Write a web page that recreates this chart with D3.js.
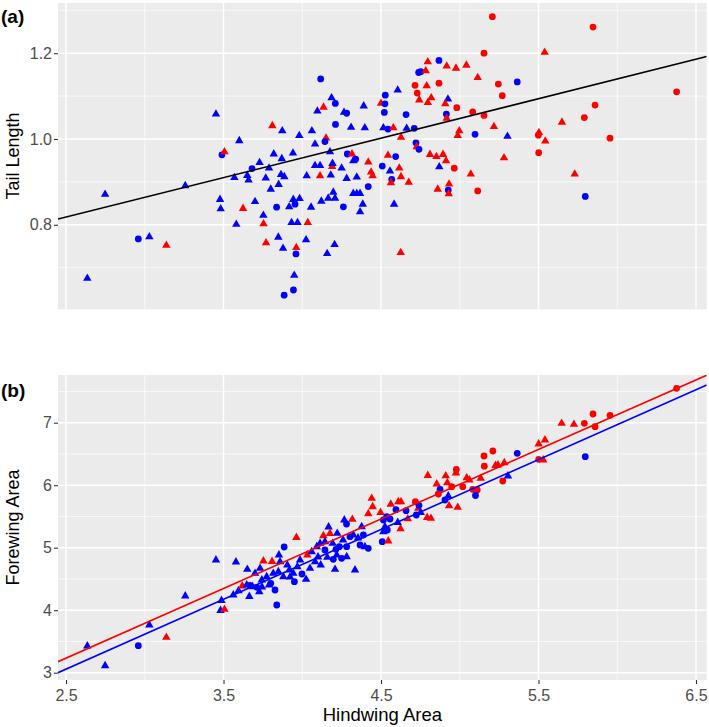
<!DOCTYPE html>
<html><head><meta charset="utf-8">
<script src="https://cdn.jsdelivr.net/npm/d3@7"></script>
<style>body{margin:0;background:#fff}svg{display:block}</style>
</head><body>
<script>
// ---- Data ----
// [hindwing area, tail length, group, shape]
const panelA = [
[2.635,0.675,'b','t'],[2.748,0.871,'b','t'],[2.959,0.767,'b','c'],[3.029,0.772,'b','t'],[3.137,0.752,'r','t'],
[3.257,0.891,'b','t'],[3.452,1.058,'b','t'],[3.490,0.963,'b','c'],[3.506,0.970,'r','t'],[3.478,0.859,'b','t'],
[3.482,0.837,'b','t'],[3.600,0.996,'b','t'],[3.569,0.910,'b','t'],[3.581,0.801,'b','t'],[3.624,0.838,'r','t'],
[3.651,0.915,'b','t'],[3.659,0.904,'b','t'],[3.681,0.931,'b','c'],[3.700,0.854,'b','t'],[3.729,0.945,'b','t'],
[3.768,0.909,'b','t'],[3.789,0.932,'b','t'],[3.800,0.883,'b','t'],[3.753,0.822,'b','t'],[3.754,0.802,'r','t'],
[3.770,0.758,'r','t'],[3.810,1.031,'r','t'],[3.819,0.965,'b','t'],[3.837,0.841,'b','c'],[3.850,0.894,'b','t'],
[3.848,0.771,'b','t'],[3.870,0.954,'b','t'],[3.873,1.019,'b','t'],[3.865,0.917,'b','t'],[3.886,0.912,'b','t'],
[3.878,0.745,'b','t'],[3.885,0.636,'b','c'],[3.917,0.842,'b','t'],[3.932,0.805,'b','t'],[3.941,0.967,'b','t'],
[3.943,0.859,'b','t'],[3.954,0.848,'b','c'],[3.944,0.648,'b','c'],[3.949,0.682,'b','t'],[3.960,0.732,'b','c'],
[3.962,0.747,'r','t'],[3.970,0.805,'b','t'],[3.981,1.008,'b','t'],[3.983,0.861,'b','t'],[4.024,0.765,'b','t'],
[4.028,0.914,'b','t'],[4.035,0.805,'r','t'],[4.056,0.841,'b','t'],[4.061,1.019,'b','t'],[4.081,0.988,'b','t'],
[4.081,0.938,'b','t'],[4.113,0.938,'b','t'],[4.117,1.140,'b','c'],[4.096,1.065,'b','t'],[4.135,1.074,'r','t'],
[4.113,0.914,'r','t'],[4.121,0.855,'b','t'],[4.151,1.002,'r','t'],[4.144,0.994,'b','c'],[4.158,0.733,'b','t'],
[4.186,1.096,'b','t'],[4.210,1.083,'b','c'],[4.176,0.970,'b','t'],[4.190,0.936,'r','t'],[4.181,0.916,'b','t'],
[4.197,0.876,'b','t'],[4.165,0.862,'b','t'],[4.208,0.862,'b','t'],[4.205,0.754,'b','t'],[4.211,1.034,'b','c'],
[4.192,0.943,'b','t'],[4.265,1.062,'b','t'],[4.282,1.060,'b','c'],[4.390,1.077,'b','t'],[4.310,1.027,'b','t'],
[4.397,1.026,'b','t'],[4.286,0.965,'b','c'],[4.316,0.965,'r','t'],[4.500,1.083,'r','t'],[4.527,1.102,'b','c'],
[4.525,1.082,'b','c'],[4.521,1.062,'b','c'],[4.606,1.114,'b','t'],[4.659,1.057,'b','c'],[4.515,1.026,'b','t'],
[4.544,1.023,'b','c'],[4.578,1.026,'r','t'],[4.627,1.004,'r','t'],[4.663,1.025,'b','t'],[4.711,1.025,'b','c'],
[4.722,0.991,'b','c'],[4.727,0.982,'r','t'],[4.741,0.976,'b','c'],[4.593,0.959,'b','c'],[4.544,0.962,'r','t'],
[4.739,1.155,'b','c'],[4.752,1.157,'b','c'],[4.868,1.183,'b','c'],[4.797,1.180,'r','t'],[4.784,1.159,'r','t'],
[4.716,1.125,'r','c'],[4.790,1.124,'r','t'],[4.730,1.107,'r','c'],[4.743,1.091,'r','t'],[4.797,1.085,'r','t'],
[4.819,1.096,'r','t'],[4.868,1.130,'r','c'],[4.917,1.170,'r','t'],[4.976,1.165,'r','t'],[5.042,1.172,'r','t'],
[5.114,1.143,'r','t'],[5.154,1.200,'r','c'],[5.207,1.285,'r','c'],[5.245,1.128,'r','c'],[5.270,1.101,'r','c'],
[4.925,1.093,'b','t'],[4.908,1.082,'r','t'],[4.981,1.073,'r','c'],[4.915,1.058,'b','c'],[4.917,1.048,'r','t'],
[5.082,1.063,'r','c'],[5.154,1.055,'r','c'],[5.217,1.029,'r','t'],[4.997,1.019,'r','t'],[4.987,1.008,'r','t'],
[5.097,1.011,'b','c'],[5.303,1.006,'b','t'],[4.811,0.964,'r','t'],[4.852,0.959,'r','t'],[4.894,0.964,'r','t'],
[5.281,0.956,'r','t'],[4.250,0.932,'b','t'],[4.324,0.949,'b','t'],[4.339,0.953,'b','c'],[4.419,0.946,'r','t'],
[4.437,0.923,'r','t'],[4.447,0.914,'r','t'],[4.282,0.908,'b','t'],[4.346,0.911,'b','t'],[4.508,0.937,'b','c'],
[4.557,0.925,'b','t'],[4.616,0.932,'r','t'],[4.627,0.912,'r','t'],[4.568,0.906,'b','c'],[4.563,0.898,'r','t'],
[4.676,0.899,'r','t'],[4.419,0.889,'b','c'],[4.324,0.873,'b','t'],[4.346,0.873,'b','t'],[4.367,0.873,'b','t'],
[4.384,0.848,'b','t'],[4.261,0.842,'b','c'],[4.367,0.830,'b','t'],[4.583,0.848,'b','t'],[4.913,0.949,'r','t'],
[4.870,0.935,'b','t'],[4.965,0.932,'r','c'],[5.070,0.918,'r','t'],[4.860,0.883,'r','t'],[4.932,0.895,'r','t'],
[4.927,0.881,'b','c'],[4.930,0.872,'r','t'],[5.114,0.879,'r','c'],[4.625,0.735,'r','t'],[5.846,1.261,'r','c'],
[5.539,1.202,'r','t'],[5.365,1.133,'b','c'],[6.377,1.110,'r','c'],[5.859,1.079,'r','c'],[5.791,1.050,'r','c'],
[5.649,1.039,'r','t'],[5.503,1.015,'r','t'],[5.499,1.009,'r','c'],[5.543,0.995,'r','t'],[5.954,1.002,'r','c'],
[5.501,0.968,'r','c'],[5.730,0.918,'r','t'],[5.797,0.866,'b','c']
];
// [hindwing area, forewing area, group, shape]
const panelB = [
[2.635,3.427,'b','t'],[2.748,3.112,'b','t'],[2.959,3.432,'b','c'],[3.029,3.763,'b','t'],[3.137,3.566,'r','t'],
[3.257,4.227,'b','t'],[3.452,4.803,'b','t'],[3.487,4.155,'b','t'],[3.481,3.995,'b','t'],[3.506,4.014,'r','t'],
[3.579,4.771,'b','t'],[3.562,4.243,'b','t'],[3.595,4.312,'b','t'],[3.619,4.387,'r','t'],[3.651,4.654,'b','t'],
[3.664,4.219,'b','t'],[3.647,4.403,'b','t'],[3.668,4.395,'b','c'],[3.684,4.376,'b','t'],[3.700,4.590,'b','t'],
[3.711,4.366,'b','c'],[3.727,4.296,'b','t'],[3.732,4.670,'b','t'],[3.743,4.483,'b','t'],[3.753,4.787,'r','t'],
[3.774,4.536,'b','t'],[3.789,4.403,'b','t'],[3.800,4.430,'b','c'],[3.808,4.779,'r','t'],[3.816,4.590,'b','t'],
[3.838,4.083,'b','c'],[3.848,4.616,'b','t'],[3.852,4.883,'b','t'],[3.859,4.776,'b','t'],[3.880,4.536,'b','t'],
[3.885,5.011,'b','c'],[3.905,4.723,'b','t'],[3.918,4.643,'b','t'],[3.943,4.590,'b','t'],[3.950,4.456,'b','c'],
[3.963,5.163,'r','t'],[3.969,4.696,'b','t'],[3.986,4.803,'b','t'],[4.024,4.494,'b','t'],[4.032,4.883,'r','t'],
[4.049,4.670,'b','t'],[4.060,4.936,'b','t'],[4.081,4.776,'b','t'],[4.092,5.016,'b','t'],[4.113,5.070,'b','t'],
[4.117,4.723,'b','t'],[4.134,5.192,'r','t'],[4.144,5.096,'b','t'],[4.159,4.846,'b','t'],[4.167,5.331,'b','t'],
[4.176,5.227,'r','t'],[4.193,5.070,'b','t'],[4.197,4.814,'b','c'],[4.208,4.654,'b','t'],[4.214,4.974,'b','c'],
[4.219,4.883,'b','t'],[4.235,5.016,'b','c'],[4.250,4.830,'b','c'],[4.267,5.443,'b','t'],[4.281,5.379,'b','c'],
[4.318,5.454,'r','t'],[4.282,5.016,'b','c'],[4.303,5.176,'b','c'],[4.282,4.856,'b','t'],[4.335,4.643,'b','t'],
[4.377,5.336,'b','t'],[4.388,5.203,'b','c'],[4.354,5.155,'b','t'],[4.398,5.016,'b','t'],[4.419,4.990,'b','c'],
[4.324,5.203,'b','t'],[4.222,5.230,'b','t'],[3.744,4.371,'b','t'],[3.827,4.323,'b','c'],[3.922,4.531,'b','t'],
[3.998,4.579,'b','c'],[4.100,4.851,'b','t'],[4.144,4.963,'b','c'],[4.259,5.123,'b','t'],[4.367,5.043,'b','c'],
[4.441,5.790,'r','t'],[4.447,5.656,'r','t'],[4.419,5.544,'r','t'],[4.497,5.563,'r','t'],[4.562,5.696,'r','t'],
[4.610,5.736,'r','t'],[4.627,5.736,'r','t'],[4.595,5.608,'b','c'],[4.536,5.496,'b','c'],[4.557,5.459,'b','c'],
[4.515,5.443,'b','c'],[4.525,5.336,'b','t'],[4.515,5.256,'b','t'],[4.540,5.283,'b','c'],[4.508,5.096,'b','c'],
[4.546,5.107,'r','t'],[4.624,5.302,'r','t'],[4.606,5.403,'b','t'],[4.659,5.592,'b','c'],[4.670,5.462,'r','t'],
[4.718,5.736,'r','c'],[4.737,5.630,'r','t'],[4.741,5.678,'b','c'],[4.724,5.523,'b','c'],[4.752,5.563,'b','t'],
[4.793,5.483,'r','t'],[4.817,5.470,'r','t'],[4.797,6.155,'r','t'],[4.854,6.019,'r','t'],[4.875,5.934,'b','c'],
[4.864,5.859,'r','c'],[4.911,6.150,'r','t'],[4.921,6.040,'r','t'],[4.978,6.251,'r','c'],[4.976,6.195,'r','t'],
[4.949,5.976,'r','c'],[4.927,5.827,'b','t'],[4.906,5.763,'b','c'],[4.932,5.670,'r','t'],[4.987,5.646,'r','t'],
[5.044,6.118,'r','t'],[5.061,6.083,'r','t'],[5.082,5.934,'r','c'],[5.111,5.923,'r','c'],[5.100,5.835,'b','c'],
[5.154,6.467,'r','c'],[5.210,6.547,'r','c'],[5.156,6.304,'r','c'],[5.227,6.315,'r','t'],[5.243,6.323,'r','t'],
[5.133,6.110,'r','t'],[5.019,5.976,'r','c'],[5.365,6.510,'b','c'],[5.273,6.067,'r','c'],[5.306,6.147,'b','t'],
[5.283,6.360,'r','t'],[5.501,6.659,'r','t'],[5.541,6.723,'r','t'],[5.501,6.414,'r','c'],[5.530,6.403,'r','t'],
[5.647,6.990,'r','t'],[5.725,6.974,'r','t'],[5.791,6.990,'r','c'],[5.846,7.139,'r','c'],[5.859,6.936,'r','c'],
[5.954,7.118,'r','c'],[5.797,6.456,'b','c'],[6.377,7.550,'r','c']
];
// fitted lines: [intercept, slope, group]
const linesA = [[0.588, 0.092, 'k']];
const linesB = [[0.450, 1.113, 'r'], [0.263, 1.1175, 'b']];

const xTicks = [2.5, 3.5, 4.5, 5.5, 6.5];
const xMinor = [3, 4, 5, 6];
const yTicksA = [0.8, 1.0, 1.2];
const yMinorA = [0.7, 0.9, 1.1, 1.3];
const yTicksB = [3, 4, 5, 6, 7];
const yMinorB = [3.5, 4.5, 5.5, 6.5, 7.5];

// ---- Drawing ----
const W = 709, H = 727;
const FONT = "'Liberation Sans', Arial, Helvetica, sans-serif";
const svg = d3.select("body").append("svg").attr("width", W).attr("height", H)
  .style("font-family", FONT);

const L = 58, R = 706.7;
const x = d3.scaleLinear().domain([2.449, 6.568]).range([L, R]);
const color = d3.scaleOrdinal().domain(['r','b','k']).range(['#FF0000','#0000FF','#000000']);
const shapeType = {c: d3.symbolCircle, t: d3.symbolTriangle};
const shapeSize = {c: 36, t: 31};

function panel(id, top, bottom, yDomain, yTicks, yMinor, data, lines, showX) {
  const y = d3.scaleLinear().domain(yDomain).range([bottom, top]);
  const g = svg.append("g");
  g.append("rect").attr("x", L).attr("y", top).attr("width", R - L).attr("height", bottom - top)
    .attr("fill", "#EBEBEB");
  // minor grid
  g.selectAll(".vmin").data(xMinor).join("line")
    .attr("x1", d => x(d)).attr("x2", d => x(d)).attr("y1", top).attr("y2", bottom)
    .attr("stroke", "#fff").attr("stroke-width", 0.7);
  g.selectAll(".hmin").data(yMinor).join("line")
    .attr("y1", d => y(d)).attr("y2", d => y(d)).attr("x1", L).attr("x2", R)
    .attr("stroke", "#fff").attr("stroke-width", 0.7);
  // major grid
  g.selectAll(".vmaj").data(xTicks).join("line")
    .attr("x1", d => x(d)).attr("x2", d => x(d)).attr("y1", top).attr("y2", bottom)
    .attr("stroke", "#fff").attr("stroke-width", 1.4);
  g.selectAll(".hmaj").data(yTicks).join("line")
    .attr("y1", d => y(d)).attr("y2", d => y(d)).attr("x1", L).attr("x2", R)
    .attr("stroke", "#fff").attr("stroke-width", 1.4);

  const clip = svg.append("clipPath").attr("id", "clip" + id);
  clip.append("rect").attr("x", L).attr("y", top).attr("width", R - L).attr("height", bottom - top);
  const inner = g.append("g").attr("clip-path", `url(#clip${id})`);

  inner.selectAll("path.pt").data(data).join("path")
    .attr("class", "pt")
    .attr("transform", d => `translate(${x(d[0])},${y(d[1])})`)
    .attr("d", d => d3.symbol(shapeType[d[3]], shapeSize[d[3]])())
    .attr("fill", d => color(d[2]));

  const [x0, x1] = x.domain();
  inner.selectAll("line.fit").data(lines).join("line")
    .attr("class", "fit")
    .attr("x1", x(x0)).attr("x2", x(x1))
    .attr("y1", d => y(d[0] + d[1] * x0)).attr("y2", d => y(d[0] + d[1] * x1))
    .attr("stroke", d => color(d[2])).attr("stroke-width", 1.6);

  // y axis
  const fmt = yTicks.some(v => v % 1 !== 0) ? d3.format(".1f") : d3.format("d");
  const ya = g.append("g").attr("transform", `translate(${L},0)`)
    .call(d3.axisLeft(y).tickValues(yTicks).tickFormat(fmt).tickSize(4).tickPadding(2));
  ya.select(".domain").remove();
  ya.selectAll("line").attr("stroke", "#333333").attr("stroke-width", 1.1);
  ya.selectAll("text").attr("fill", "#4D4D4D").style("font-size", "16px").style("font-family", FONT);

  if (showX) {
    const xa = g.append("g").attr("transform", `translate(0,${bottom})`)
      .call(d3.axisBottom(x).tickValues(xTicks).tickFormat(d3.format(".1f")).tickSize(4).tickPadding(6));
    xa.select(".domain").remove();
    xa.selectAll("line").attr("stroke", "#333333").attr("stroke-width", 1.1);
    xa.selectAll("text").attr("fill", "#4D4D4D").style("font-size", "16px").style("font-family", FONT);
  }
  return y;
}

panel("a", 3, 309.3, [0.603, 1.317], yTicksA, yMinorA, panelA, linesA, false);
panel("b", 375, 680, [2.883, 7.763], yTicksB, yMinorB, panelB, linesB, true);

// titles
svg.append("text").attr("x", 1).attr("y", 23).text("(a)")
  .style("font-size", "19px").style("font-weight", "bold").attr("fill", "#000");
svg.append("text").attr("x", 1).attr("y", 397).text("(b)")
  .style("font-size", "19px").style("font-weight", "bold").attr("fill", "#000");

svg.append("text").attr("transform", `translate(19,156) rotate(-90)`).attr("text-anchor", "middle")
  .text("Tail Length").style("font-size", "18px").attr("fill", "#000");
svg.append("text").attr("transform", `translate(19,527.5) rotate(-90)`).attr("text-anchor", "middle")
  .text("Forewing Area").style("font-size", "18px").attr("fill", "#000");
svg.append("text").attr("x", (L + R) / 2).attr("y", 721).attr("text-anchor", "middle")
  .text("Hindwing Area").style("font-size", "18.5px").attr("fill", "#000");
</script>
</body></html>
